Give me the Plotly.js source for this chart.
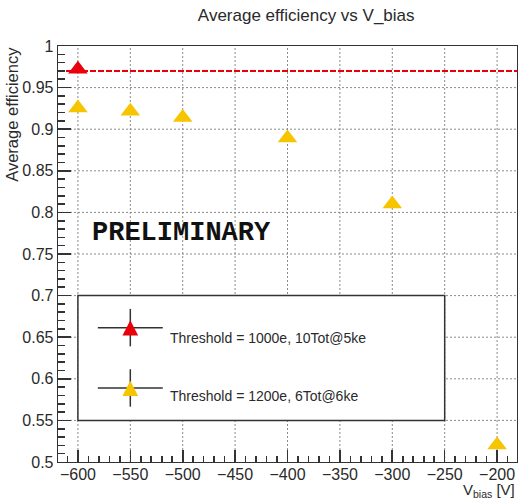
<!DOCTYPE html>
<html><head><meta charset="utf-8">
<script src="https://cdn.plot.ly/plotly-3.0.1.min.js"></script>
<style>html,body{margin:0;padding:0;background:#fff}#chart{width:519px;height:501px}</style>
</head><body><div id="chart"></div>
<script>
// data
const vbias1000 = [-600];
const eff1000 = [0.972];
const vbias1200 = [-600, -550, -500, -400, -300, -200];
const eff1200 = [0.9255, 0.9215, 0.914, 0.8895, 0.810, 0.5205];
const refLine = 0.970;
const xTicks = [-600, -550, -500, -450, -400, -350, -300, -250, -200];
const yTicks = [0.5, 0.55, 0.6, 0.65, 0.7, 0.75, 0.8, 0.85, 0.9, 0.95, 1.0];
const seriesNames = ["Threshold = 1000e, 10Tot@5ke", "Threshold = 1200e, 6Tot@6ke"];
const colors = ["#e8000b", "#f7c400"];

const FONT = "Liberation Sans, Arial, sans-serif";
const txt = "#2a2a2a";
const tickCol = "#333";

const traces = [
  {x: vbias1200, y: eff1200, mode: "markers", type: "scatter", name: seriesNames[1],
   marker: {symbol: "triangle-up", size: 17, color: colors[1]}, showlegend: false, cliponaxis: false},
  {x: vbias1000, y: eff1000, mode: "markers", type: "scatter", name: seriesNames[0],
   marker: {symbol: "triangle-up", size: 17, color: colors[0]}, showlegend: false, cliponaxis: false}
];

// legend box in data units
const legX0 = -600, legX1 = -250, legY0 = 0.55, legY1 = 0.70;

const axisCommon = {
  ticks: "inside", tickcolor: tickCol, tickwidth: 1.6,
  showgrid: false,
  zeroline: false, showline: true, linecolor: "#333", mirror: true, linewidth: 1.3,
  tickfont: {family: FONT, size: 16, color: txt}
};

const layout = {
  width: 519, height: 501,
  margin: {l: 58, r: 2, t: 46, b: 39},
  paper_bgcolor: "#fff", plot_bgcolor: "#fff",
  font: {family: FONT, color: txt, size: 14},
  title: {text: "Average efficiency vs V_bias", x: 0.59, xanchor: "center", y: 0.97, yanchor: "middle",
          font: {family: FONT, size: 17, color: txt}},
  xaxis: Object.assign({}, axisCommon, {range: [-619, -181], tickvals: xTicks, ticklen: 12, ticklabelstandoff: -3,
          minor: {dtick: 10, ticks: "inside", ticklen: 6, tickcolor: tickCol, tickwidth: 1.6, showgrid: false}}),
  yaxis: Object.assign({}, axisCommon, {range: [0.5, 1.0], tickvals: yTicks, ticktext: yTicks.map(String), ticklen: 13,
          minor: {dtick: 0.01, ticks: "inside", ticklen: 7, tickcolor: tickCol, tickwidth: 1.6, showgrid: false}}),
  shapes: [],
  annotations: [
    {text: "Average efficiency", xref: "paper", yref: "paper", x: -0.1, y: 1.002, xanchor: "center", yanchor: "top",
     textangle: -90, showarrow: false, font: {family: FONT, size: 16.5, color: txt}},
    {text: "V<sub>bias</sub> [V]", xref: "paper", yref: "paper", x: 1.0, y: -0.095, xanchor: "right", yanchor: "bottom",
     showarrow: false, font: {family: FONT, size: 15, color: txt}},
    {text: "<b>PRELIMINARY</b>", xref: "x", yref: "y", x: -588, y: 0.7755, xanchor: "left", yanchor: "middle",
     showarrow: false, font: {family: "Liberation Mono, Courier New, monospace", size: 27, color: "#111"}},
    {text: seriesNames[0], xref: "x", yref: "y", x: -514, y: 0.6495, xanchor: "left", yanchor: "middle",
     showarrow: false, font: {family: FONT, size: 14, color: txt}},
    {text: seriesNames[1], xref: "x", yref: "y", x: -514, y: 0.5795, xanchor: "left", yanchor: "middle",
     showarrow: false, font: {family: FONT, size: 14, color: txt}}
  ]
};

// dotted grid at major ticks
const gridLine = () => ({color: "#8a8a8a", width: 1, dash: "2px,2px"});
xTicks.forEach(v => layout.shapes.push({type: "line", xref: "x", yref: "paper", x0: v, x1: v, y0: 0, y1: 1,
  line: gridLine(), layer: "below"}));
yTicks.slice(1, -1).forEach(v => layout.shapes.push({type: "line", xref: "paper", yref: "y", x0: 0, x1: 1, y0: v, y1: v,
  line: gridLine(), layer: "below"}));

// reference efficiency line and legend box
layout.shapes.push({type: "line", xref: "paper", x0: 0, x1: 1, yref: "y", y0: refLine, y1: refLine,
  line: {color: colors[0], width: 2, dash: "6px,2px"}, layer: "below"});
layout.shapes.push({type: "rect", xref: "x", yref: "y", x0: legX0, x1: legX1, y0: legY0, y1: legY1,
  fillcolor: "#fff", line: {color: "#333", width: 1.5}, layer: "above"});

// legend symbols: error-bar cross + triangle, placed inside legend box
const legRows = [{y: 0.6615, c: colors[0]}, {y: 0.589, c: colors[1]}];
legRows.forEach(r => {
  layout.shapes.push({type: "line", xref: "x", yref: "y", x0: -581, x1: -519, y0: r.y, y1: r.y,
                      line: {color: "#333", width: 1.5}, layer: "above"});
  layout.shapes.push({type: "line", xref: "x", yref: "y", x0: -550, x1: -550, y0: r.y - 0.0225, y1: r.y + 0.0225,
                      line: {color: "#333", width: 1.5}, layer: "above"});
  const hw = 7.5;
  layout.shapes.push({type: "path", xref: "x", yref: "y",
     path: `M ${-550-hw} ${r.y-0.0096} L ${-550+hw} ${r.y-0.0096} L -550 ${r.y+0.0088} Z`,
     fillcolor: r.c, line: {width: 0}, layer: "above"});
});

Plotly.newPlot("chart", traces, layout, {displayModeBar: false, staticPlot: true});
</script></body></html>
